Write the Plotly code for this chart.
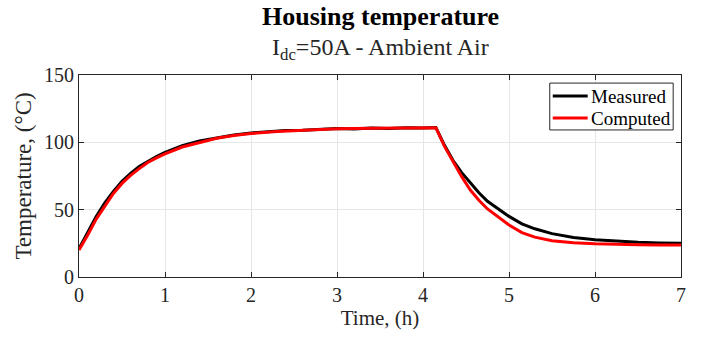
import plotly.graph_objects as go

# Time (h)
t_meas = [0, 0.05, 0.1, 0.2, 0.3, 0.4, 0.5, 0.6, 0.7, 0.8, 0.9, 1.0, 1.2, 1.4, 1.6, 1.8, 2.0,
          2.2, 2.4, 2.6, 2.8, 3.0, 3.2, 3.4, 3.6, 3.8, 4.0, 4.15,
          4.25, 4.35, 4.45, 4.55, 4.65, 4.75, 4.9, 5.0, 5.15, 5.3, 5.5, 5.75, 6.0, 6.25, 6.5, 6.75, 7.0]
T_meas = [21, 27, 33, 45, 55, 63.5, 71, 77, 82, 86, 89.5, 92.5, 97.5, 101, 103.5, 105.5, 107,
          107.8, 108.8, 109.0, 109.8, 110.2, 109.9, 110.6, 110.3, 110.9, 110.6, 111.0,
          97.8, 86.5, 77.5, 69.6, 62.5, 56.2, 49.5, 45.0, 39.5, 35.8, 32.2, 29.4, 27.6, 26.5, 25.8, 25.3, 25.0]

t_comp = [0, 0.05, 0.1, 0.2, 0.3, 0.4, 0.5, 0.6, 0.7, 0.8, 0.9, 1.0, 1.2, 1.4, 1.6, 1.8, 2.0,
          2.3, 2.6, 3.0, 3.4, 3.8, 4.15,
          4.25, 4.35, 4.45, 4.55, 4.65, 4.75, 4.9, 5.0, 5.15, 5.3, 5.5, 5.75, 6.0, 6.25, 6.5, 6.75, 7.0]
T_comp = [20, 25, 31, 43, 53, 62, 69.5, 75.5, 80.5, 85, 88.5, 91.5, 96.5, 100, 103, 105, 106.5,
          108, 109, 110, 110.5, 110.8, 110.8,
          97.0, 85.6, 74.5, 64.6, 57.0, 50.5, 43.0, 38.6, 33.0, 29.6, 27.0, 25.4, 24.6, 24.1, 23.9, 23.8, 23.7]

series_names = ["Measured", "Computed"]
series_colors = ["black", "#ff0000"]

x_ticks = [0, 1, 2, 3, 4, 5, 6, 7]
y_ticks = [0, 50, 100, 150]

FONT = "Liberation Serif, Times New Roman, serif"

fig = go.Figure()
fig.add_trace(go.Scatter(x=t_meas, y=T_meas, mode="lines", name=series_names[0],
                         line=dict(color=series_colors[0], width=3), showlegend=False))
fig.add_trace(go.Scatter(x=t_comp, y=T_comp, mode="lines", name=series_names[1],
                         line=dict(color=series_colors[1], width=3), showlegend=False))

axis_common = dict(
    showline=True, linecolor="#262626", linewidth=1, mirror="ticks",
    ticks="inside", ticklen=5, tickcolor="#262626",
    showgrid=True, gridcolor="#e6e6e6", gridwidth=1, zeroline=False,
    tickfont=dict(family=FONT, size=20, color="#262626"),
)

fig.update_layout(
    width=702, height=341,
    margin=dict(l=79, r=21, t=75, b=64),
    paper_bgcolor="white", plot_bgcolor="white",
    font=dict(family=FONT, color="#262626"),
    showlegend=False,
    xaxis=dict(range=[0, 7], tickvals=x_ticks,
               title=dict(text="Time, (h)", font=dict(family=FONT, size=21, color="#262626"), standoff=4),
               **axis_common),
    yaxis=dict(range=[0, 150], tickvals=y_ticks,
               title=dict(text="Temperature, (°C)", font=dict(family=FONT, size=23, color="#262626"), standoff=5),
               **axis_common),
)

fig.add_annotation(text="<b>Housing temperature</b>", xref="paper", yref="paper",
                   x=0.5, y=1, yshift=59, showarrow=False, yanchor="middle",
                   font=dict(family=FONT, size=26, color="black"))
fig.add_annotation(text="I<sub>dc</sub>=50A - Ambient Air", xref="paper", yref="paper",
                   x=0.5, y=1, yshift=26, showarrow=False, yanchor="middle",
                   font=dict(family=FONT, size=24, color="#262626"))

# Legend box (MATLAB style)
lx0, lx1, ly0, ly1 = 0.782, 0.987, 0.728, 0.960
fig.add_shape(type="rect", xref="paper", yref="paper", x0=lx0, x1=lx1, y0=ly0, y1=ly1,
              line=dict(color="#262626", width=1), fillcolor="white", layer="above")
legend_rows = [0.896, 0.787]
for name, color, yy in zip(series_names, series_colors, legend_rows):
    fig.add_shape(type="line", xref="paper", yref="paper", x0=0.787, x1=0.845, y0=yy, y1=yy,
                  line=dict(color=color, width=3), layer="above")
    fig.add_annotation(text=name, xref="paper", yref="paper", x=0.848, y=yy,
                       xanchor="left", yanchor="middle", showarrow=False,
                       font=dict(family=FONT, size=19, color="black"))

fig.write_html("out.html")
